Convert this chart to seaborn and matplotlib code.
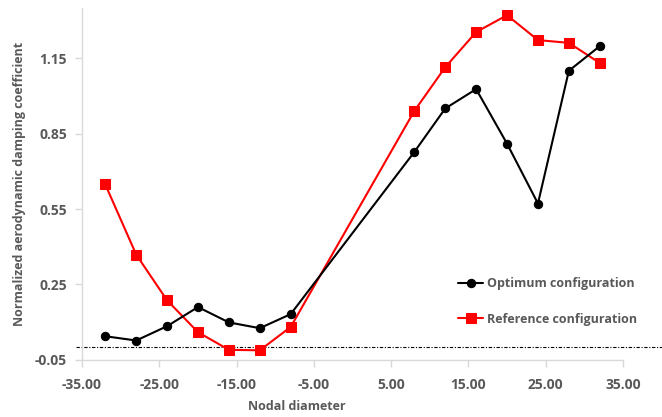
import numpy as np
import pandas as pd
import seaborn as sns
import matplotlib.pyplot as plt

# nodal diameters and normalized damping
nodal_diameter = [-32, -28, -24, -20, -16, -12, -8, 8, 12, 16, 20, 24, 28, 32]
optimum = [0.044, 0.027, 0.084, 0.160, 0.099, 0.076, 0.132,
           0.777, 0.950, 1.027, 0.810, 0.572, 1.100, 1.198]
reference = [0.648, 0.369, 0.187, 0.060, -0.010, -0.012, 0.081,
             0.940, 1.114, 1.254, 1.321, 1.222, 1.211, 1.131]
x_ticks = [-35, -25, -15, -5, 5, 15, 25, 35]
y_ticks = [-0.05, 0.25, 0.55, 0.85, 1.15]

df = pd.DataFrame({'nd': nodal_diameter, 'opt': optimum, 'ref': reference})

sns.set_style('white')
plt.rcParams['font.family'] = ['Open Sans', 'DejaVu Sans']
plt.rcParams['font.weight'] = 'bold'
grey = '#595959'
axis_col = '#d9d9d9'

fig = plt.figure(figsize=(6.62, 4.17), dpi=100)
ax = fig.add_axes([0.124, 0.137, 0.817, 0.844])

ax.axhline(0, xmin=-0.011, xmax=1.072, color='black', lw=0.8,
           ls=(0, (3, 1.5, 1, 1.5)), clip_on=False, zorder=1)

sns.lineplot(data=df, x='nd', y='opt', ax=ax, color='black', lw=1.5,
             marker='o', markersize=6, markeredgecolor='black',
             label='Optimum configuration', zorder=3)
sns.lineplot(data=df, x='nd', y='ref', ax=ax, color='#ff0000', lw=1.5,
             marker='s', markersize=6.5, markeredgecolor='#ff0000',
             label='Reference configuration', zorder=2)

ax.set_xlim(-35, 35)
ax.set_ylim(-0.05, 1.35)
ax.set_xticks(x_ticks)
ax.set_yticks(y_ticks)
ax.set_xticklabels([f'{v:.2f}' for v in x_ticks])
ax.set_yticklabels([f'{v:.2f}' for v in y_ticks])

for s in ['top', 'right']:
    ax.spines[s].set_visible(False)
for s in ['left', 'bottom']:
    ax.spines[s].set_color(axis_col)
    ax.spines[s].set_linewidth(1.0)

ax.tick_params(axis='both', colors=axis_col, length=5, width=1.0,
               labelcolor=grey, labelsize=10, pad=6)
ax.tick_params(axis='x', direction='out', bottom=True, pad=8)
ax.tick_params(axis='y', direction='out', left=True)
for lab in ax.get_xticklabels() + ax.get_yticklabels():
    lab.set_fontweight('bold')

ax.set_xlabel('Nodal diameter', color=grey, fontsize=9, fontweight='bold')
ax.xaxis.set_label_coords(0.397, -0.113)
ax.set_ylabel('Normalized aerodynamic damping coefficient', color=grey,
              fontsize=9, fontweight='bold', labelpad=6)

leg = ax.legend(loc='lower left', bbox_to_anchor=(0.675, 0.065), frameon=False,
                handlelength=2.0, handletextpad=0.3, labelspacing=1.8,
                prop={'size': 9, 'weight': 'bold'})
for t in leg.get_texts():
    t.set_color(grey)

fig.savefig('out.png', dpi=100)
